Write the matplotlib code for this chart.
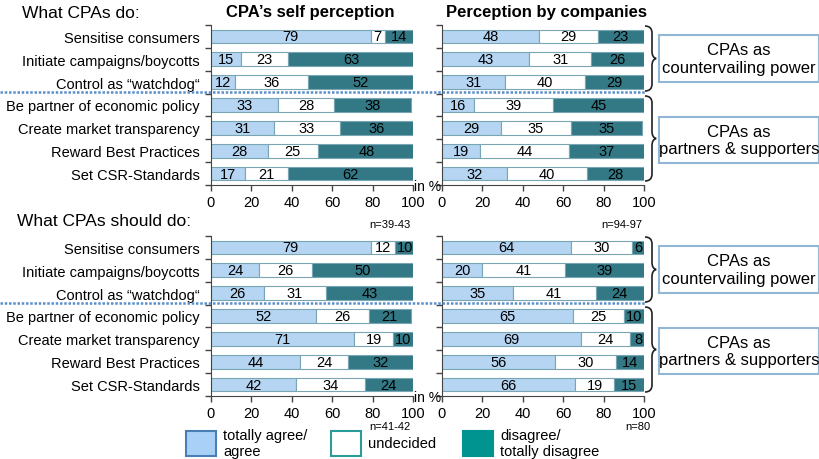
import matplotlib
matplotlib.use("Agg")
import matplotlib.pyplot as plt
from matplotlib.patches import Rectangle, PathPatch
from matplotlib.path import Path
from matplotlib.lines import Line2D

plt.rcParams['font.family'] = ['Liberation Sans', 'DejaVu Sans']

categories = ["Sensitise consumers", "Initiate campaigns/boycotts", "Control as \u201cwatchdog\u201c",
              "Be partner of economic policy", "Create market transparency",
              "Reward Best Practices", "Set CSR-Standards"]

# agree / undecided / disagree, in %
self_do_agree = [79, 15, 12, 33, 31, 28, 17]
self_do_undec = [7, 23, 36, 28, 33, 25, 21]
self_do_disag = [14, 63, 52, 38, 36, 48, 62]

comp_do_agree = [48, 43, 31, 16, 29, 19, 32]
comp_do_undec = [29, 31, 40, 39, 35, 44, 40]
comp_do_disag = [23, 26, 29, 45, 35, 37, 28]

self_should_agree = [79, 24, 26, 52, 71, 44, 42]
self_should_undec = [12, 26, 31, 26, 19, 24, 34]
self_should_disag = [10, 50, 43, 21, 10, 32, 24]

comp_should_agree = [64, 20, 35, 65, 69, 56, 66]
comp_should_undec = [30, 41, 41, 25, 24, 30, 19]
comp_should_disag = [6, 39, 24, 10, 8, 14, 15]

xticks = [0, 20, 40, 60, 80, 100]

LIGHT = '#b5d5f2'
TEAL = '#327985'
EDGE = '#7aa6b4'

W, H = 820, 460
fig = plt.figure(figsize=(8.2, 4.6), dpi=100)


def fx(px):
    return px / W


def fy(py):
    return 1 - py / H


def panel(x0, x1, y0, y1, agree, undec, disag, show_labels):
    ax = fig.add_axes([fx(x0), fy(y1), fx(x1) - fx(x0), (y1 - y0) / H])
    n = len(categories)
    ys = list(range(n))
    left = [0] * n
    for vals, col in [(agree, LIGHT), (undec, 'white'), (disag, TEAL)]:
        ax.barh(ys, vals, left=left, height=0.6, color=col, edgecolor=EDGE, linewidth=0.8)
        for y, l, v in zip(ys, left, vals):
            ax.text(l + v / 2, y, str(v), ha='center', va='center', fontsize=10.5, color='black')
        left = [l + v for l, v in zip(left, vals)]
    ax.set_xlim(0, 100)
    ax.set_ylim(n - 0.5, -0.5)
    ax.set_xticks(xticks)
    ax.set_xticklabels([str(t) for t in xticks], fontsize=10.5)
    ax.set_yticks([i - 0.5 for i in range(n + 1)], minor=False)
    ax.set_yticklabels([])
    if show_labels:
        ax.set_yticks(ys, minor=True)
        ax.set_yticklabels(categories, minor=True, fontsize=10.5)
        ax.tick_params(axis='y', which='minor', length=0, pad=8)
    ax.tick_params(axis='both', which='major', length=4, color='#444444', width=1)
    for s in ['top', 'right']:
        ax.spines[s].set_visible(False)
    for s in ['left', 'bottom']:
        ax.spines[s].set_color('#444444')
    ax.patch.set_alpha(0)
    return ax


def brace(x, ytop, ybot, d=7):
    ym = (ytop + ybot) / 2
    pts = [(x, ytop), (x + d, ytop), (x + d, ytop + 7),
           (x + d, ym - 7),
           (x + d, ym - 1), (x + d * 1.6, ym),
           (x + d, ym + 1), (x + d, ym + 7),
           (x + d, ybot - 7),
           (x + d, ybot), (x, ybot)]
    codes = [Path.MOVETO, Path.CURVE3, Path.CURVE3, Path.LINETO, Path.CURVE3, Path.CURVE3,
             Path.CURVE3, Path.CURVE3, Path.LINETO, Path.CURVE3, Path.CURVE3]
    p = Path([(fx(px), fy(py)) for px, py in pts], codes)
    fig.add_artist(PathPatch(p, transform=fig.transFigure, fill=False, lw=1.2, color='#222222'))


def group_box(ytop, ybot, text):
    fig.add_artist(Rectangle((fx(659), fy(ybot)), fx(819) - fx(659), (ybot - ytop) / H,
                             transform=fig.transFigure, facecolor='white', edgecolor='#92b6d6', lw=1.5))
    fig.text(fx(739), fy((ytop + ybot) / 2), text, ha='center', va='center', fontsize=12, linespacing=1.2)


for off in [0, 211]:
    if off == 0:
        left_vals = (self_do_agree, self_do_undec, self_do_disag)
        right_vals = (comp_do_agree, comp_do_undec, comp_do_disag)
    else:
        left_vals = (self_should_agree, self_should_undec, self_should_disag)
        right_vals = (comp_should_agree, comp_should_undec, comp_should_disag)
    panel(211, 413, 26 + off, 186 + off, *left_vals, True)
    panel(442, 644, 26 + off, 186 + off, *right_vals, False)
    # separator line between the two groups
    fig.add_artist(Line2D([0, fx(645)], [fy(93 + off), fy(93 + off)], transform=fig.transFigure,
                          color='#5a8fca', lw=1.8, ls=(0, (1, 0.7))))
    brace(645, 27 + off, 92 + off)
    brace(645, 97 + off, 182 + off)
    group_box(36 + off, 83 + off, "CPAs as\ncountervailing power")
    group_box(118 + off, 164 + off, "CPAs as\npartners & supporters")
    fig.text(fx(414), fy(187 + off), "in %", fontsize=10, ha='left', va='center')

fig.text(fx(22), fy(14), "What CPAs do:", fontsize=12.5, va='center')
fig.text(fx(17), fy(222), "What CPAs should do:", fontsize=12.5, va='center')
fig.text(fx(310), fy(13), "CPA\u2019s self perception", fontsize=12, weight='bold', ha='center', va='center')
fig.text(fx(546), fy(13), "Perception by companies", fontsize=12, weight='bold', ha='center', va='center')
fig.text(fx(411), fy(225), "n=39-43", fontsize=8, ha='right', va='center')
fig.text(fx(642), fy(225), "n=94-97", fontsize=8, ha='right', va='center')
fig.text(fx(411), fy(427), "n=41-42", fontsize=8, ha='right', va='center')
fig.text(fx(650), fy(427), "n=80", fontsize=8, ha='right', va='center')

# legend
legend_items = [(186, '#a9d0f7', '#4a7fb5', "totally agree/\nagree"),
                (331, 'white', '#2a9d9a', "undecided"),
                (463, '#009490', '#009490', "disagree/\ntotally disagree")]
for lx, fc, ec, lab in legend_items:
    fig.add_artist(Rectangle((fx(lx), fy(457)), fx(30), 25 / H, transform=fig.transFigure,
                             facecolor=fc, edgecolor=ec, lw=1.5))
    fig.text(fx(lx + 37), fy(444), lab, fontsize=10.5, va='center', ha='left', linespacing=1.1)

fig.savefig("out.png", dpi=100)
